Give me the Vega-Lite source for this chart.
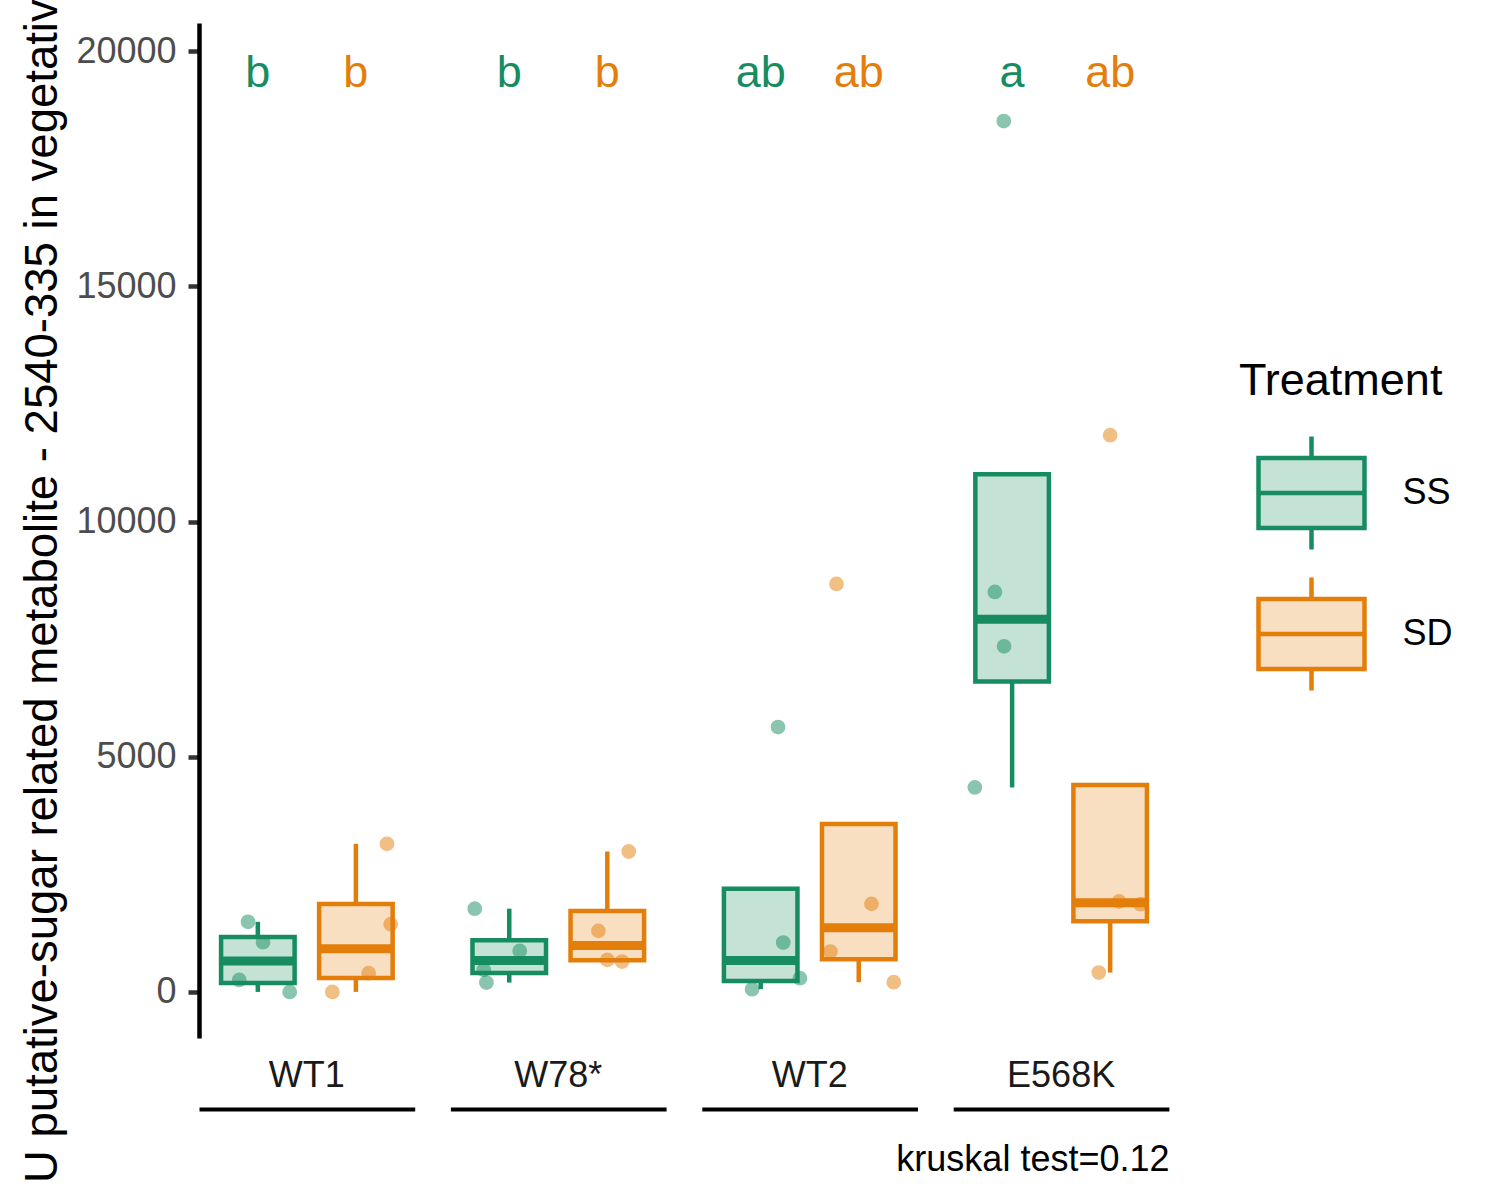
{
  "$schema": "https://vega.github.io/schema/vega-lite/v6.json",
  "description": "Boxplots with jittered points by genotype and treatment",
  "autosize": "none",
  "padding": {"left": 199, "top": 23, "right": 331, "bottom": 162},
  "width": 970,
  "height": 1015,
  "datasets": {
    "boxes": [
      {"genotype": "WT1", "treatment": "SS", "lower": 0, "q1": 191, "median": 656, "q3": 1165, "upper": 1490, "letter": "b"},
      {"genotype": "WT1", "treatment": "SD", "lower": 0, "q1": 298, "median": 919, "q3": 1867, "upper": 3149, "letter": "b"},
      {"genotype": "W78*", "treatment": "SS", "lower": 198, "q1": 400, "median": 670, "q3": 1096, "upper": 1770, "letter": "b"},
      {"genotype": "W78*", "treatment": "SD", "lower": 645, "q1": 672, "median": 989, "q3": 1720, "upper": 2985, "letter": "b"},
      {"genotype": "WT2", "treatment": "SS", "lower": 57, "q1": 232, "median": 670, "q3": 2194, "upper": 2194, "letter": "ab"},
      {"genotype": "WT2", "treatment": "SD", "lower": 206, "q1": 695, "median": 1365, "q3": 3572, "upper": 3572, "letter": "ab"},
      {"genotype": "E568K", "treatment": "SS", "lower": 4347, "q1": 6597, "median": 7925, "q3": 11007, "upper": 11007, "letter": "a"},
      {"genotype": "E568K", "treatment": "SD", "lower": 411, "q1": 1501, "median": 1893, "q3": 4400, "upper": 4400, "letter": "ab"}
    ],
    "points": [
      {"genotype": "WT1", "treatment": "SS", "value": 1490, "jitter": -0.1},
      {"genotype": "WT1", "treatment": "SS", "value": 1057, "jitter": 0.053},
      {"genotype": "WT1", "treatment": "SS", "value": 255, "jitter": -0.19},
      {"genotype": "WT1", "treatment": "SS", "value": 0, "jitter": 0.325},
      {"genotype": "WT1", "treatment": "SD", "value": 3149, "jitter": 0.317},
      {"genotype": "WT1", "treatment": "SD", "value": 1440, "jitter": 0.355},
      {"genotype": "WT1", "treatment": "SD", "value": 398, "jitter": 0.13},
      {"genotype": "WT1", "treatment": "SD", "value": 0, "jitter": -0.24},
      {"genotype": "W78*", "treatment": "SS", "value": 1770, "jitter": -0.352},
      {"genotype": "W78*", "treatment": "SS", "value": 872, "jitter": 0.107},
      {"genotype": "W78*", "treatment": "SS", "value": 468, "jitter": -0.26},
      {"genotype": "W78*", "treatment": "SS", "value": 198, "jitter": -0.233},
      {"genotype": "W78*", "treatment": "SD", "value": 2985, "jitter": 0.218},
      {"genotype": "W78*", "treatment": "SD", "value": 1298, "jitter": -0.091},
      {"genotype": "W78*", "treatment": "SD", "value": 681, "jitter": 0.0},
      {"genotype": "W78*", "treatment": "SD", "value": 645, "jitter": 0.15},
      {"genotype": "WT2", "treatment": "SS", "value": 5631, "jitter": 0.177},
      {"genotype": "WT2", "treatment": "SS", "value": 1049, "jitter": 0.23},
      {"genotype": "WT2", "treatment": "SS", "value": 291, "jitter": 0.4},
      {"genotype": "WT2", "treatment": "SS", "value": 57, "jitter": -0.088},
      {"genotype": "WT2", "treatment": "SD", "value": 8674, "jitter": -0.227},
      {"genotype": "WT2", "treatment": "SD", "value": 1872, "jitter": 0.13},
      {"genotype": "WT2", "treatment": "SD", "value": 858, "jitter": -0.289},
      {"genotype": "WT2", "treatment": "SD", "value": 206, "jitter": 0.357},
      {"genotype": "E568K", "treatment": "SS", "value": 18516, "jitter": -0.085},
      {"genotype": "E568K", "treatment": "SS", "value": 8504, "jitter": -0.176},
      {"genotype": "E568K", "treatment": "SS", "value": 7347, "jitter": -0.082},
      {"genotype": "E568K", "treatment": "SS", "value": 4347, "jitter": -0.38},
      {"genotype": "E568K", "treatment": "SD", "value": 11836, "jitter": 0.0},
      {"genotype": "E568K", "treatment": "SD", "value": 1922, "jitter": 0.091},
      {"genotype": "E568K", "treatment": "SD", "value": 1865, "jitter": 0.309},
      {"genotype": "E568K", "treatment": "SD", "value": 411, "jitter": -0.116}
    ]
  },
  "layer": [
    {
      "data": {"name": "boxes"},
      "encoding": {
        "x": {
          "field": "genotype",
          "type": "nominal",
          "scale": {"domain": ["WT1", "W78*", "WT2", "E568K"], "paddingInner": 0.142, "paddingOuter": 0},
          "axis": {
            "orient": "bottom",
            "offset": 71,
            "ticks": false,
            "domainDash": [215.7, 35.7],
            "domainWidth": 4,
            "domainColor": "black",
            "labelAngle": 0,
            "labelFontSize": 36,
            "labelColor": "#1A1A1A",
            "labelBaseline": "alphabetic",
            "labelPadding": -22.3,
            "title": "kruskal test=0.12",
            "titleFontSize": 36,
            "titleFontWeight": "normal",
            "titleColor": "black",
            "titleAlign": "right",
            "titleBaseline": "alphabetic",
            "titleX": 970,
            "titleY": 61
          }
        },
        "xOffset": {
          "field": "treatment",
          "type": "nominal",
          "scale": {"domain": ["SS", "SD"], "paddingInner": 0.25, "paddingOuter": 0.225}
        }
      },
      "layer": [
        {
          "mark": {"type": "bar", "strokeWidth": 4.5},
          "encoding": {
            "y": {
              "field": "q1",
              "type": "quantitative",
              "title": "U putative-sugar related metabolite - 2540-335 in vegetative",
              "scale": {"domain": [-980, 20600], "nice": false, "zero": false},
              "axis": {
                "values": [0, 5000, 10000, 15000, 20000],
                "format": "d",
                "grid": false,
                "domainColor": "black",
                "domainWidth": 4.5,
                "tickColor": "#333333",
                "tickWidth": 4.5,
                "tickSize": 11,
                "labelFontSize": 36,
                "labelColor": "#4D4D4D",
                "labelPadding": 12,
                "titleFontSize": 45.5,
                "titleFontWeight": "normal",
                "titleColor": "black",
                "titleAngle": 270,
                "titleAlign": "left",
                "titleBaseline": "alphabetic",
                "titleX": -143,
                "titleY": 1159.5
              }
            },
            "y2": {"field": "q3"},
            "fill": {
              "field": "treatment",
              "type": "nominal",
              "title": "Treatment",
              "scale": {"domain": ["SS", "SD"], "range": ["#C5E2D7", "#F8DFC2"]},
              "legend": {
                "orient": "none",
                "legendX": 1040,
                "legendY": 336,
                "padding": 0,
                "titleFontSize": 45,
                "titleFontWeight": "normal",
                "titleColor": "black",
                "titleLimit": 400,
                "titlePadding": 30,
                "labelFontSize": 36,
                "labelColor": "black",
                "labelOffset": 32,
                "rowPadding": 9,
                "symbolSize": 12769,
                "symbolOffset": 13.5,
                "symbolStrokeWidth": 4.5,
                "symbolType": "M-0.938,-0.62H0.938V0.62H-0.938Z M0,-0.62V-1 M0,0.62V1 M-0.938,0H0.938"
              }
            },
            "stroke": {
              "field": "treatment",
              "type": "nominal",
              "title": "Treatment",
              "scale": {"domain": ["SS", "SD"], "range": ["#168C60", "#E37E0A"]}
            }
          }
        },
        {
          "mark": {"type": "rule", "strokeWidth": 4.5},
          "encoding": {
            "y": {"field": "lower", "type": "quantitative", "title": "U putative-sugar related metabolite - 2540-335 in vegetative"},
            "y2": {"field": "q1"},
            "color": {"field": "treatment", "type": "nominal", "title": "Treatment", "scale": {"domain": ["SS", "SD"], "range": ["#168C60", "#E37E0A"]}}
          }
        },
        {
          "mark": {"type": "rule", "strokeWidth": 4.5},
          "encoding": {
            "y": {"field": "q3", "type": "quantitative", "title": "U putative-sugar related metabolite - 2540-335 in vegetative"},
            "y2": {"field": "upper"},
            "color": {"field": "treatment", "type": "nominal", "title": "Treatment", "scale": {"domain": ["SS", "SD"], "range": ["#168C60", "#E37E0A"]}}
          }
        },
        {
          "mark": {"type": "tick", "orient": "horizontal", "size": 73.5, "thickness": 9, "opacity": 1},
          "encoding": {
            "y": {"field": "median", "type": "quantitative", "title": "U putative-sugar related metabolite - 2540-335 in vegetative"},
            "color": {"field": "treatment", "type": "nominal", "title": "Treatment", "scale": {"domain": ["SS", "SD"], "range": ["#168C60", "#E37E0A"]}}
          }
        },
        {
          "mark": {"type": "text", "fontSize": 45, "baseline": "alphabetic", "align": "center"},
          "encoding": {
            "y": {"datum": 19246, "type": "quantitative"},
            "text": {"field": "letter"},
            "color": {"field": "treatment", "type": "nominal", "title": "Treatment", "scale": {"domain": ["SS", "SD"], "range": ["#168C60", "#E37E0A"]}}
          }
        }
      ]
    },
    {
      "data": {"name": "points"},
      "layer": [
        {
          "transform": [{"filter": "datum.treatment === 'SS'"}],
          "mark": {"type": "circle", "size": 218, "opacity": 0.5},
          "encoding": {
            "x": {"field": "genotype", "type": "nominal"},
            "xOffset": {"field": "jitter", "type": "quantitative", "scale": {"domain": [-0.6, 1.6], "nice": false, "zero": false}},
            "y": {"field": "value", "type": "quantitative", "title": "U putative-sugar related metabolite - 2540-335 in vegetative"},
            "color": {"field": "treatment", "type": "nominal", "title": "Treatment", "scale": {"domain": ["SS", "SD"], "range": ["#168C60", "#E37E0A"]}}
          }
        },
        {
          "transform": [{"filter": "datum.treatment === 'SD'"}],
          "mark": {"type": "circle", "size": 218, "opacity": 0.5},
          "encoding": {
            "x": {"field": "genotype", "type": "nominal"},
            "xOffset": {"field": "jitter", "type": "quantitative", "scale": {"domain": [-1.6, 0.6], "nice": false, "zero": false}},
            "y": {"field": "value", "type": "quantitative", "title": "U putative-sugar related metabolite - 2540-335 in vegetative"},
            "color": {"field": "treatment", "type": "nominal", "title": "Treatment", "scale": {"domain": ["SS", "SD"], "range": ["#168C60", "#E37E0A"]}}
          }
        }
      ],
      "resolve": {"scale": {"xOffset": "independent"}}
    }
  ],
  "resolve": {"scale": {"xOffset": "independent"}},
  "config": {
    "font": "Liberation Sans",
    "view": {"stroke": null},
    "axis": {"grid": false}
  }
}
